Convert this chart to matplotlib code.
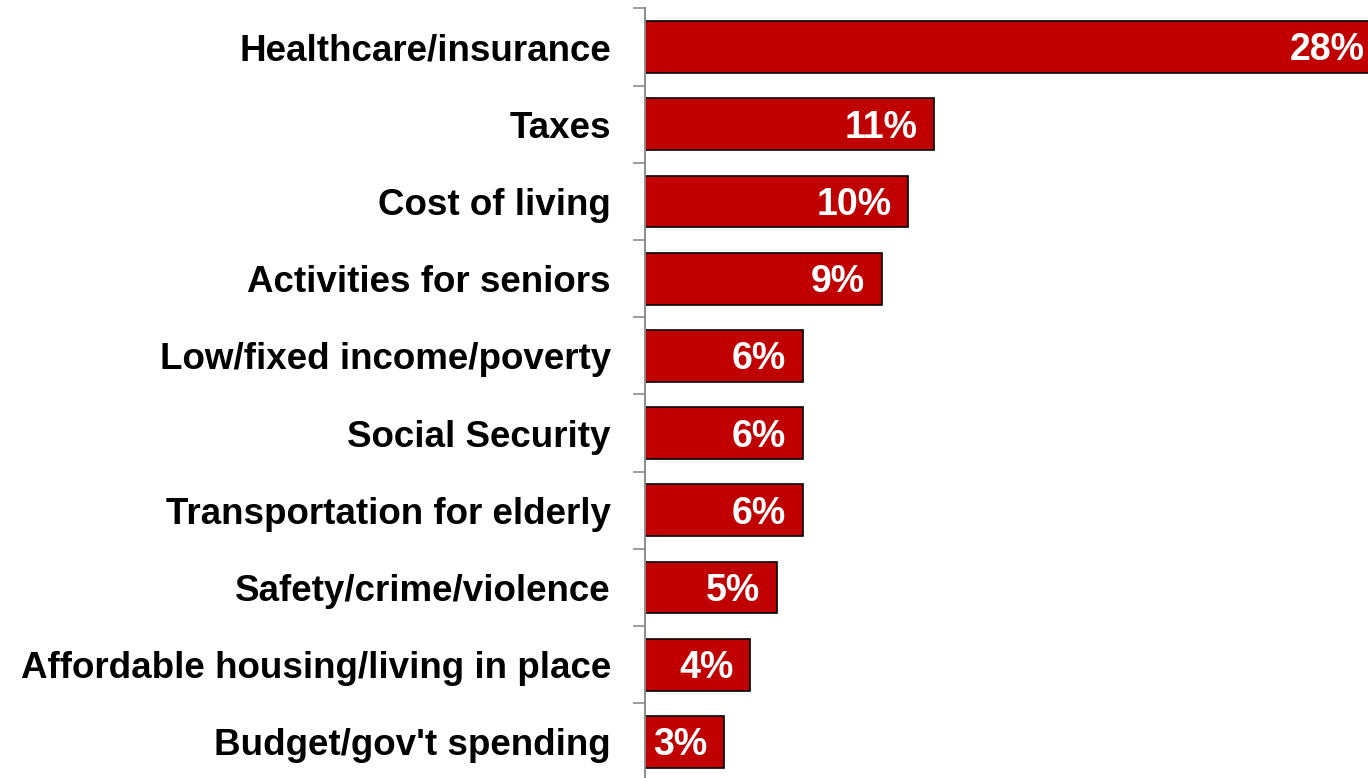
import matplotlib
matplotlib.use("Agg")
import matplotlib.pyplot as plt
from matplotlib import font_manager as fm

categories = ["Healthcare/insurance", "Taxes", "Cost of living", "Activities for seniors",
              "Low/fixed income/poverty", "Social Security", "Transportation for elderly",
              "Safety/crime/violence", "Affordable housing/living in place", "Budget/gov't spending"]
values = [28, 11, 10, 9, 6, 6, 6, 5, 4, 3]
labels = ["28%", "11%", "10%", "9%", "6%", "6%", "6%", "5%", "4%", "3%"]

bold_file = None
for f in fm.findSystemFonts():
    if f.endswith("LiberationSans-Bold.ttf"):
        bold_file = f
        break

def fp(size):
    if bold_file:
        return fm.FontProperties(fname=bold_file, size=size)
    return fm.FontProperties(family="DejaVu Sans", weight="bold", size=size)

W, H = 1368, 778
fig = plt.figure(figsize=(W/100, H/100), dpi=100)
left = 645 / W
top = 1 - 8.4 / H
bottom = 1 - 780.6 / H
ax = fig.add_axes([left, bottom, 1 - left, top - bottom])

y = list(range(len(categories)))
ax.barh(y, values, height=0.67, color="#C00000", edgecolor="black", linewidth=1.2)
ax.set_ylim(len(categories) - 0.5, -0.5)
ax.set_xlim(0, (W - 645) / 26.3)

ax.set_yticks([i + 0.5 for i in range(-1, len(categories))], minor=False)
ax.set_yticklabels([])
ax.set_yticks(y, minor=True)
ax.set_yticklabels(categories, minor=True)
for t in ax.get_yticklabels(minor=True):
    t.set_fontproperties(fp(26.5))
ax.tick_params(axis='y', which='major', length=8.6, width=1.2, color="#8C8C8C", direction='out')
ax.tick_params(axis='y', which='minor', length=0, pad=24.5)

for yi, v, lab in zip(y, values, labels):
    ax.annotate(lab, xy=(v, yi), xytext=(-12, -2.5), textcoords='offset points',
                ha='right', va='center', color='white', fontproperties=fp(27),
                annotation_clip=False)

ax.set_xticks([])
for s in ['top', 'right', 'bottom']:
    ax.spines[s].set_visible(False)
ax.spines['left'].set_color("#8C8C8C")
ax.spines['left'].set_linewidth(1.4)

fig.savefig("out.png", dpi=100)
